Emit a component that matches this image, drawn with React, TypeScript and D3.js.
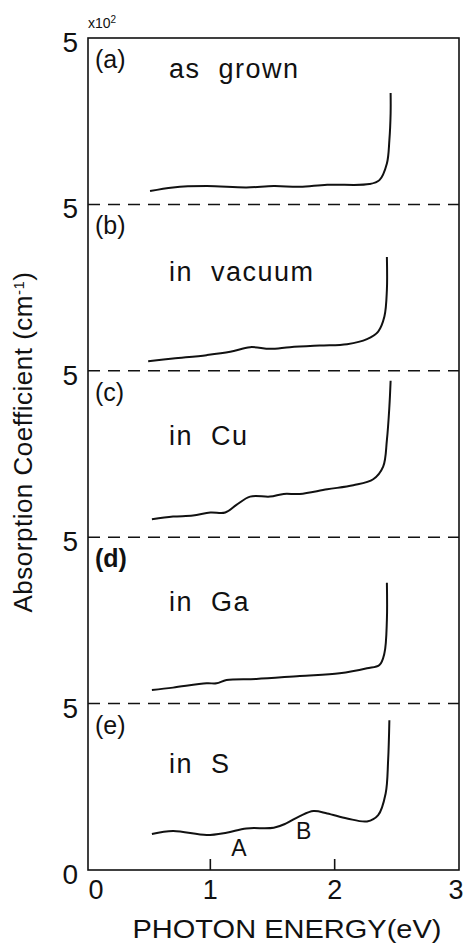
import React from 'react';
import * as d3 from 'd3';

// panel tags and sample names, top to bottom
const panelTags = ['(a)', '(b)', '(c)', '(d)', '(e)'];
const panelNames = ['as  grown', 'in  vacuum', 'in  Cu', 'in  Ga', 'in  S'];

// photon energy (eV) / absorption coefficient (x10^2 cm-1)
const grownE = [0.515, 0.7, 0.97, 1.29, 1.51, 1.72, 1.94, 2.28, 2.36, 2.42, 2.44, 2.45, 2.45];
const grownK = [0.4, 0.51, 0.55, 0.51, 0.55, 0.53, 0.59, 0.61, 0.73, 1.23, 1.93, 2.74, 3.35];

const vacuumE = [0.5, 0.7, 0.97, 1.16, 1.32, 1.48, 1.64, 1.88, 2.1, 2.26, 2.35, 2.4, 2.42, 2.42];
const vacuumK = [0.29, 0.37, 0.47, 0.57, 0.71, 0.66, 0.71, 0.76, 0.8, 0.95, 1.18, 1.63, 2.43, 3.42];

const cuE = [0.53, 0.7, 0.86, 1.0, 1.12, 1.21, 1.32, 1.48, 1.59, 1.72, 1.94, 2.15, 2.31, 2.39, 2.42, 2.44, 2.45];
const cuK = [0.54, 0.62, 0.65, 0.74, 0.74, 0.97, 1.22, 1.22, 1.3, 1.3, 1.44, 1.56, 1.74, 2.12, 2.92, 3.92, 4.7];

const gaE = [0.53, 0.7, 0.97, 1.05, 1.13, 1.37, 1.72, 2.04, 2.26, 2.36, 2.4, 2.42, 2.42];
const gaK = [0.41, 0.48, 0.61, 0.61, 0.71, 0.74, 0.83, 0.91, 1.06, 1.16, 1.51, 2.51, 3.63];

const sE = [0.53, 0.7, 0.97, 1.13, 1.29, 1.51, 1.61, 1.72, 1.83, 1.94, 2.1, 2.26, 2.35, 2.41, 2.43, 2.44];
const sK = [1.08, 1.17, 1.05, 1.12, 1.25, 1.27, 1.4, 1.62, 1.77, 1.7, 1.55, 1.46, 1.65, 2.3, 3.3, 4.5];

const traces = [
  [grownE, grownK],
  [vacuumE, vacuumK],
  [cuE, cuK],
  [gaE, gaK],
  [sE, sK],
];

const xTicks = [0, 1, 2, 3];
const yTickLabels = ['5', '5', '5', '5', '5', '0'];

// peak markers in panel (e)
const peakNames = ['A', 'B'];
const peakE = [1.23, 1.75];
const peakK = [0.68, 1.2];

const W = 465;
const H = 945;
const left = 86;
const right = 459;
const top = 38;
const bottom = 870;
const font = '"Liberation Sans", Arial, sans-serif';

const App = () => {
  const x = d3.scaleLinear().domain([0, 3]).range([left, right]);
  const bands = d3.scaleBand().domain(panelTags).range([top, bottom]).paddingInner(0);
  const ph = bands.bandwidth();
  const panelY = (i) => d3.scaleLinear().domain([0, 5]).range([bands(panelTags[i]) + ph, bands(panelTags[i])]);
  const frameLeft = 88;

  return (
    <svg width={W} height={H} style={{ position: 'absolute', left: 0, top: 0 }}>
      <rect width={W} height={H} fill="#fff" />

      {/* frame */}
      <rect x={frameLeft} y={top} width={right - frameLeft} height={bottom - top} fill="none" stroke="#111" strokeWidth={1.6} />

      {/* dashed separators */}
      {panelTags.slice(1).map((t) => (
        <line key={t} x1={frameLeft} x2={right} y1={bands(t)} y2={bands(t)} stroke="#111" strokeWidth={1.5} strokeDasharray="12 8" />
      ))}

      {/* bottom ticks */}
      {xTicks.slice(1, 3).map((v) => (
        <line key={v} x1={x(v)} x2={x(v)} y1={bottom} y2={bottom - 11} stroke="#111" strokeWidth={1.6} />
      ))}
      {xTicks.map((v) => (
        <text key={v} x={v === 0 ? x(v) + 10 : v === 3 ? x(v) - 3 : x(v)} y={899} fontFamily={font} fontSize={27} textAnchor="middle" fill="#111">
          {v}
        </text>
      ))}
      <text x={287} y={938} fontFamily={font} fontSize={25} textAnchor="middle" fill="#111" textLength={309} lengthAdjust="spacingAndGlyphs">
        PHOTON ENERGY(eV)
      </text>

      {/* y tick labels */}
      {yTickLabels.map((lab, i) => (
        <text key={i} x={78} y={(i < 5 ? bands(panelTags[i]) : bottom) + 14} fontFamily={font} fontSize={28} textAnchor="end" fill="#111">
          {lab}
        </text>
      ))}
      <text x={88} y={28} fontFamily={font} fontSize={14} fill="#111">
        x10<tspan dy={-5} fontSize={10}>2</tspan>
      </text>

      <text transform="translate(32,442) rotate(-90)" fontFamily={font} fontSize={26} textAnchor="middle" fill="#111" letterSpacing={0.5}>
        Absorption  Coefficient  (cm<tspan dy={-8} fontSize={15}>-1</tspan><tspan dy={8}>)</tspan>
      </text>

      {/* panels */}
      {traces.map(([es, ks], i) => {
        const y = panelY(i);
        const line = d3
          .line()
          .x((d) => x(d[0]))
          .y((d) => y(d[1]))
          .curve(d3.curveCatmullRom.alpha(0.5));
        const pts = es.map((e, j) => [e, ks[j]]);
        const y0 = bands(panelTags[i]);
        return (
          <g key={i}>
            <text x={95} y={y0 + 30} fontFamily={font} fontSize={25} fontWeight={i === 3 ? 'bold' : 'normal'} fill="#111">
              {panelTags[i]}
            </text>
            <text x={169} y={y0 + [40, 77, 74, 74, 69][i]} fontFamily={font} fontSize={27} fill="#111" letterSpacing={1.5} style={{ whiteSpace: 'pre' }}>
              {panelNames[i]}
            </text>
            <path d={line(pts)} fill="none" stroke="#111" strokeWidth={2} strokeLinejoin="round" />
          </g>
        );
      })}

      {peakNames.map((n, i) => (
        <text key={n} x={x(peakE[i])} y={panelY(4)(peakK[i]) + 9} fontFamily={font} fontSize={23} textAnchor="middle" fill="#111">
          {n}
        </text>
      ))}
    </svg>
  );
};

export default App;
